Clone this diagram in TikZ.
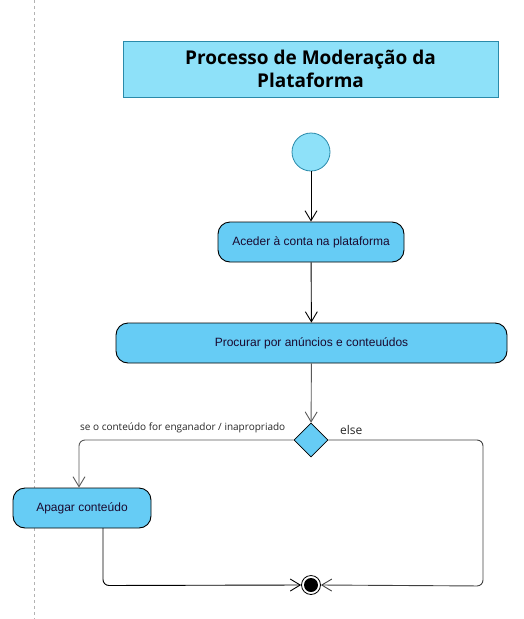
\documentclass[tikz,border=0pt]{standalone}
\usepackage{fontspec}
\setmainfont{Liberation Sans}
\newfontfamily\titlefont{Open Sans}
\usetikzlibrary{arrows.meta,shapes.geometric}
\definecolor{boxfill}{HTML}{66CCF5}
\definecolor{titlefill}{HTML}{8EE1F9}
\definecolor{titleline}{HTML}{2A8AAA}
\definecolor{txt}{HTML}{1A0A30}
\tikzset{
  x=1pt,y=-1pt,
  act/.style={draw=black,line width=0.9pt,fill=boxfill,rounded corners=12pt,inner sep=0pt,font=\fontsize{12}{14}\selectfont,text=txt},
  flow/.style={draw=black,line width=0.9pt,-{Straight Barb[length=10pt,width=12pt,line width=0.9pt]},rounded corners=6pt},
  gflow/.style={flow,draw=black!65},
}
\begin{document}
\begin{tikzpicture}
\useasboundingbox (0,0) rectangle (524,619);
\draw[black!30,dashed,line width=0.7pt] (34,0) -- (34,619);
\node[draw=titleline,fill=titlefill,line width=0.8pt,minimum width=375pt,minimum height=56pt,inner sep=0pt,align=center,font=\titlefont\bfseries\fontsize{19}{23}\selectfont] (title) at (310.5,69) {Processo de Moderação da\\Plataforma};
\node[circle,draw=titleline,fill=titlefill,line width=0.8pt,minimum size=38pt,inner sep=0pt] (start) at (311,152) {};
\node[act,minimum width=186pt,minimum height=40pt] (aceder) at (311,242) {Aceder à conta na plataforma};
\node[act,minimum width=391pt,minimum height=40pt] (procurar) at (311.5,343) {Procurar por anúncios e conteuúdos};
\node[diamond,draw=black,fill=boxfill,line width=0.8pt,minimum width=34pt,minimum height=34pt,inner sep=0pt] (dec) at (311,440) {};
\node[act,minimum width=138pt,minimum height=40pt] (apagar) at (82,508) {Apagar conteúdo};
\node[circle,draw=black,line width=0.8pt,minimum size=19pt,inner sep=0pt] (end) at (311,585) {};
\fill[black] (end.center) circle (7pt);
\draw[flow] (start) -- (aceder);
\draw[flow] (aceder) -- (procurar);
\draw[gflow] (procurar) -- (dec);
\coordinate (lc) at (79,440);
\coordinate (rc) at (483,440);
\coordinate (rb) at (483,586);
\coordinate (ab) at (103,528);
\coordinate (lb) at (103,585.5);
\draw[gflow] (dec.west) -- (lc) -- (apagar.north -| lc);
\draw[flow,draw=black!75] (dec.east) -- (rc) -- (rb) -- (end.east);
\draw[flow] (ab) -- (lb) -- (end.west);
\node[anchor=south west,inner sep=0pt,font=\titlefont\fontsize{10}{12}\selectfont,text=black!85] (lbl1) at (80,433) {se o conteúdo for enganador / inapropriado};
\node[anchor=south west,inner sep=0pt,font=\titlefont\fontsize{12}{14}\selectfont,text=black!85] (lbl2) at (340,435) {else};
\end{tikzpicture}
\end{document}
